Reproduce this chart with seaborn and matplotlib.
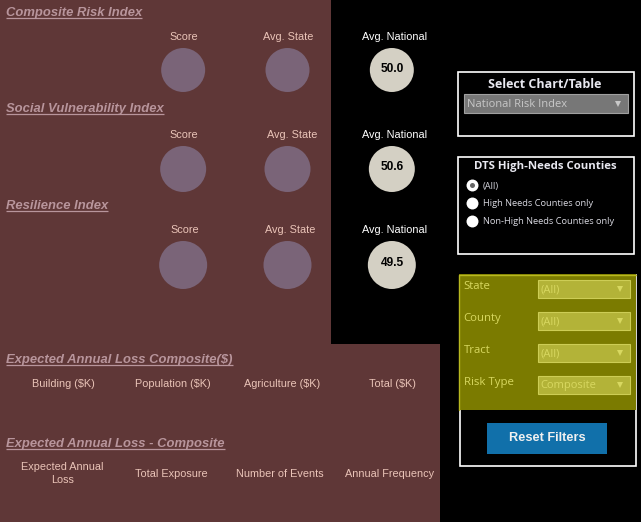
import matplotlib
matplotlib.use('Agg')
import matplotlib.pyplot as plt
from matplotlib.patches import Rectangle
import seaborn as sns
import pandas as pd

# dashboard values
kpi_labels = ['Score', 'Avg. State', 'Avg. National']
composite_values = [None, None, 50.0]
social_values = [None, None, 50.6]
resilience_values = [None, None, 49.5]
loss_labels = ['Building ($K)', 'Population ($K)', 'Agriculture ($K)', 'Total ($K)']
detail_labels = ['Expected Annual\nLoss', 'Total Exposure', 'Number of Events', 'Annual Frequency']
radio_labels = ['(All)', 'High Needs Counties only', 'Non-High Needs Counties only']
filter_labels = ['State', 'County', 'Tract', 'Risk Type']
filter_values = ['(All)', '(All)', '(All)', 'Composite']

BROWN = '#5F3737'
CIRCLE = '#7A6478'
NATIONAL = '#D4D0C4'
HEAD = '#B8959C'
LABEL = '#EAC4B8'
OLIVE = '#7B7B00'
ARIAL = 'Liberation Sans'
WIDGET = 'Open Sans'

W, H = 641, 522
sns.set_theme(style='white')
plt.rcParams['font.family'] = [ARIAL, 'DejaVu Sans']

fig = plt.figure(figsize=(W / 100, H / 100), dpi=100, facecolor='black')
ax = fig.add_axes([0, 0, 1, 1])
ax.set_xlim(0, W)
ax.set_ylim(H, 0)
ax.axis('off')


def box(x0, y0, x1, y1, **kw):
    ax.add_patch(Rectangle((x0, y0), x1 - x0, y1 - y0, **kw))


def heading(text, x, y):
    t = ax.text(x, y + 1, text, color=HEAD, fontsize=9.36, fontweight='bold', fontstyle='italic',
                ha='left', va='center')
    fig.canvas.draw()
    bb = t.get_window_extent()
    ax.plot([bb.x0, bb.x1], [y + 6.3, y + 6.3], color=HEAD, lw=0.9, solid_capstyle='butt')


def kpi_row(values, cy, diameter):
    # one small axes per row so the circles sit on a categorical x scale
    x0, x1 = 131, 444
    left = x0 / W
    bottom = 1 - (cy + 30) / H
    sub = fig.add_axes([left, bottom, (x1 - x0) / W, 60 / H])
    sub.patch.set_alpha(0)
    df = pd.DataFrame({'metric': kpi_labels, 'value': values, 'y': 0.0})
    df['has_value'] = df['value'].notna()
    size = (diameter * 0.72) ** 2
    sns.scatterplot(data=df, x='metric', y='y', hue='has_value', palette={False: CIRCLE, True: NATIONAL},
                    s=size, linewidth=0, legend=False, ax=sub)
    sub.set_xlim(-0.5, 2.5)
    sub.set_ylim(-1, 1)
    sub.axis('off')
    for i, row in df.iterrows():
        if row['has_value']:
            sub.text(i + 0.005, 0.05, f"{row['value']:.1f}", ha='center', va='center',
                     color='black', fontsize=8.6, fontweight='bold')


def dropdown(x0, y0, x1, y1, text, face, edge, color, arrow_x):
    box(x0, y0, x1, y1, facecolor=face, edgecolor=edge, lw=0.8)
    ax.text(x0 + 3.2, y1 - 5.5, text, color=color, fontsize=8.0, family=WIDGET, ha='left', va='baseline')
    ax.plot([arrow_x], [(y0 + y1) / 2 + 0.5], marker='v', ms=4.4, color=color, mew=0)


# background panels
box(0, 0, 331, 345, facecolor=BROWN, edgecolor='none')
box(0, 344, 440, 522, facecolor=BROWN, edgecolor='none')

# index sections
heading('Composite Risk Index', 6, 12)
heading('Social Vulnerability Index', 6, 108)
heading('Resilience Index', 6, 205)
heading('Expected Annual Loss Composite($)', 6, 359)
heading('Expected Annual Loss - Composite', 6, 443)

label_rows = [(36.8, [184, 288, 395]), (134.8, [184, 292, 395]), (229.8, [185, 290, 395])]
for y, xs in label_rows:
    for x, lab in zip(xs, kpi_labels):
        c = 'white' if lab == 'Avg. National' else LABEL
        ax.text(x, y, lab, color=c, fontsize=7.8, ha='center', va='center')

kpi_row(composite_values, 70, 44)
kpi_row(social_values, 169, 46)
kpi_row(resilience_values, 265, 48)

# loss table headers
for x, lab in zip([63, 173, 282, 392], loss_labels):
    ax.text(x, 383.6, lab, color=LABEL, fontsize=7.8, ha='center', va='center')
for x, lab in zip([62.5, 171, 280, 390], detail_labels):
    ax.text(x, 473.6, lab, color=LABEL, fontsize=7.8, ha='center', va='center', linespacing=1.35)

# select chart box
box(457.5, 71.5, 633.5, 135.5, facecolor='black', edgecolor='white', lw=1.2)
ax.text(545, 85, 'Select Chart/Table', color='#E8E8F0', fontsize=9, family=WIDGET, fontweight='bold',
        ha='center', va='center')
dropdown(463.5, 93.5, 627.5, 112.5, 'National Risk Index', '#777777', '#A0A0A0', '#C8C8C8', 618)

# high-needs radio box
box(457.5, 156.5, 633.5, 253.5, facecolor='black', edgecolor='white', lw=1.2)
ax.text(545, 167, 'DTS High-Needs Counties', color='#E8E8F0', fontsize=8.2, family=WIDGET, fontweight='bold',
        ha='center', va='center')
for y, lab in zip([185, 203, 221], radio_labels):
    ax.plot([472], [y], marker='o', ms=8.6, color='white', mew=0)
    ax.text(482.7, y + 3.5, lab, color='#D8D8E0', fontsize=6.65, family=WIDGET, ha='left', va='baseline')
ax.plot([472], [185], marker='o', ms=3.6, color='#666666', mew=0)

# filter box
box(459.5, 274.5, 635.5, 465.5, facecolor='black', edgecolor='white', lw=1.2)
box(458.5, 274, 636, 410, facecolor=OLIVE, edgecolor='none')
ax.plot([458.5, 458.5, 636], [410, 274.5, 274.5], color='#B8B820', lw=1)
for i, (lab, val) in enumerate(zip(filter_labels, filter_values)):
    y0 = 279 + 32 * i
    ax.text(463.5, y0 + 10, lab, color='#D8D860', fontsize=8.2, family=WIDGET, ha='left', va='baseline')
    dropdown(537.5, y0 + 0.5, 629.5, y0 + 18.5, val, '#B3B338', '#CDCD55', '#D8D860', 620)

# reset button
box(487, 423, 607, 454, facecolor='#1170AA', edgecolor='none')
ax.text(547.5, 437.8, 'Reset Filters', color='#F0F0F0', fontsize=9.2, fontweight='bold', ha='center', va='center')

fig.savefig('out.png', dpi=100, facecolor='black')
